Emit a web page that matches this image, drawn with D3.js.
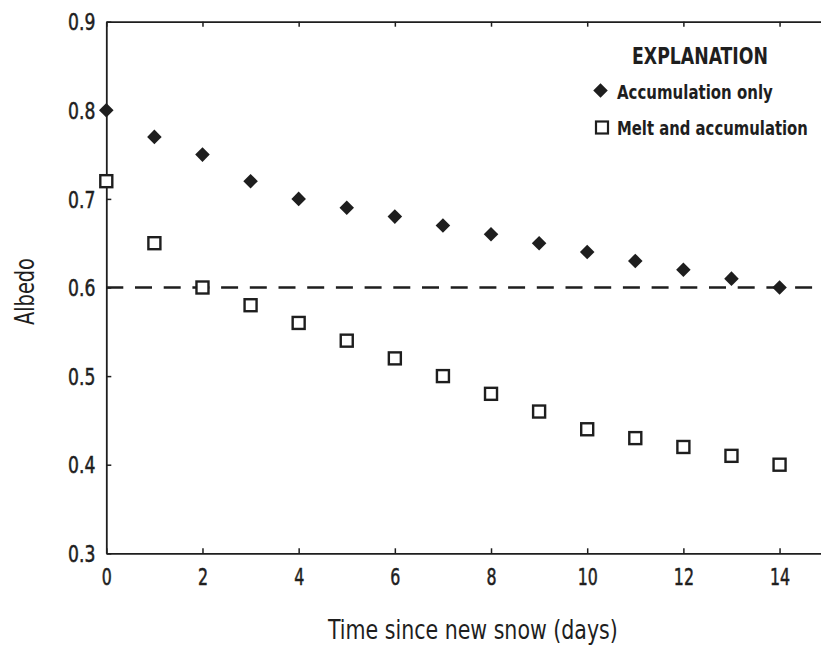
<!DOCTYPE html>
<html>
<head>
<meta charset="utf-8">
<script src="https://cdn.jsdelivr.net/npm/d3@7"></script>
<style>
  html, body { margin: 0; padding: 0; background: #fff; }
  svg { display: block; }
  text { font-family: "DejaVu Sans Condensed", "Liberation Sans Narrow", sans-serif; fill: #1e1e1e; }
</style>
</head>
<body>
<svg id="chart" width="821" height="646"></svg>
<script>
// Days since the last snowfall
const days = [0, 1, 2, 3, 4, 5, 6, 7, 8, 9, 10, 11, 12, 13, 14];
// Albedo with accumulation only
const accumulationOnly = [0.80, 0.77, 0.75, 0.72, 0.70, 0.69, 0.68, 0.67, 0.66, 0.65, 0.64, 0.63, 0.62, 0.61, 0.60];
// Albedo with melt and accumulation
const meltAndAccumulation = [0.72, 0.65, 0.60, 0.58, 0.56, 0.54, 0.52, 0.50, 0.48, 0.46, 0.44, 0.43, 0.42, 0.41, 0.40];
// Reference albedo threshold
const threshold = 0.6;
const xTicks = [0, 2, 4, 6, 8, 10, 12, 14];
const yTicks = [0.3, 0.4, 0.5, 0.6, 0.7, 0.8, 0.9];
const legendLabels = ["Accumulation only", "Melt and accumulation"];

const svg = d3.select("#chart");
const W = 821, H = 646;
const plotLeft = 106.3, plotTop = 21.7, plotBottom = 553.3;
const unit = 48.09;

const x = d3.scaleLinear().domain([0, 15]).range([plotLeft, plotLeft + 15 * unit]);
const y = d3.scaleLinear().domain([0.3, 0.9]).range([plotBottom, plotTop]);

const ink = "#1e1e1e";

// Squeeze a text horizontally to mimic a condensed face
function condense(sel, factor) {
  sel.each(function () {
    const w = this.getComputedTextLength();
    d3.select(this).attr("textLength", w * factor).attr("lengthAdjust", "spacingAndGlyphs");
  });
}

// Place a text at (px, py) and scale it horizontally to a given width
function fittedText(parent, str, px, py, width, size, weight, rotate) {
  const g = parent.append("g")
    .attr("transform", `translate(${px},${py})` + (rotate ? ` rotate(${rotate})` : ""));
  const t = g.append("text").style("font-size", size + "px").style("font-weight", weight || "normal").text(str);
  const w = t.node().getComputedTextLength();
  t.attr("transform", `scale(${width / w},1)`);
  return t;
}

// Bottom axis
const gx = svg.append("g").attr("transform", `translate(0,${plotBottom})`)
  .call(d3.axisBottom(x).tickValues(xTicks).tickSizeInner(-5).tickSizeOuter(0).tickPadding(16).tickFormat(d3.format("d")));
// Top axis (ticks only)
const gt = svg.append("g").attr("transform", `translate(0,${plotTop})`)
  .call(d3.axisTop(x).tickValues(xTicks).tickSizeInner(-5).tickSizeOuter(0).tickFormat(""));
// Left axis
const gy = svg.append("g").attr("transform", `translate(${plotLeft},0)`)
  .call(d3.axisLeft(y).tickValues(yTicks).tickSizeInner(-5).tickSizeOuter(0).tickPadding(11).tickFormat(d3.format(".1f")));

[gx, gt, gy].forEach(g => {
  g.select(".domain").attr("stroke", ink).attr("stroke-width", 1.8);
  g.selectAll(".tick line").attr("stroke", ink).attr("stroke-width", 1.5);
  g.selectAll(".tick text").attr("fill", ink)
    .attr("stroke", ink).attr("stroke-width", 0.5)
    .style("font-family", '"DejaVu Sans Condensed", "Liberation Sans Narrow", sans-serif');
});
gx.selectAll(".tick text").style("font-size", "22.5px").attr("dy", "0.71em");
gy.selectAll(".tick text").style("font-size", "23px").attr("dy", "0.36em");
condense(gx.selectAll(".tick text"), 0.78);
condense(gy.selectAll(".tick text"), 0.83);

// Threshold line
svg.append("line")
  .attr("x1", x(0)).attr("x2", W)
  .attr("y1", y(threshold)).attr("y2", y(threshold))
  .attr("stroke", ink).attr("stroke-width", 2.4)
  .attr("stroke-dasharray", "17,11.7");

// Accumulation only: filled diamonds
const diamond = d3.symbol().type(d3.symbolDiamond2).size(135);
svg.append("g").selectAll("path").data(days).join("path")
  .attr("d", diamond)
  .attr("transform", (d, i) => `translate(${x(d)},${y(accumulationOnly[i])})`)
  .attr("fill", ink);

// Melt and accumulation: open squares
const sq = 12;
svg.append("g").selectAll("rect").data(days).join("rect")
  .attr("x", d => x(d) - sq / 2)
  .attr("y", (d, i) => y(meltAndAccumulation[i]) - sq / 2)
  .attr("width", sq).attr("height", sq)
  .attr("fill", "#fff").attr("stroke", ink).attr("stroke-width", 2.4);

// Axis titles
fittedText(svg, "Time since new snow (days)", 328, 639, 290, 27);
fittedText(svg, "Albedo", 34, 325, 67, 27, "normal", -90);

// Legend
fittedText(svg, "EXPLANATION", 632, 63.5, 136, 23, "bold");
const lg = svg.append("g");
lg.append("path").attr("d", diamond).attr("transform", "translate(600.5,90.5)").attr("fill", ink);
lg.append("rect").attr("x", 602 - sq / 2).attr("y", 127.5 - sq / 2).attr("width", sq).attr("height", sq)
  .attr("fill", "#fff").attr("stroke", ink).attr("stroke-width", 2.2);
const legendWidths = [156, 191];
const legendRows = [98.5, 135];
legendLabels.forEach((t, i) => {
  fittedText(lg, t, 617, legendRows[i], legendWidths[i], 20, "bold");
});
</script>
</body>
</html>
